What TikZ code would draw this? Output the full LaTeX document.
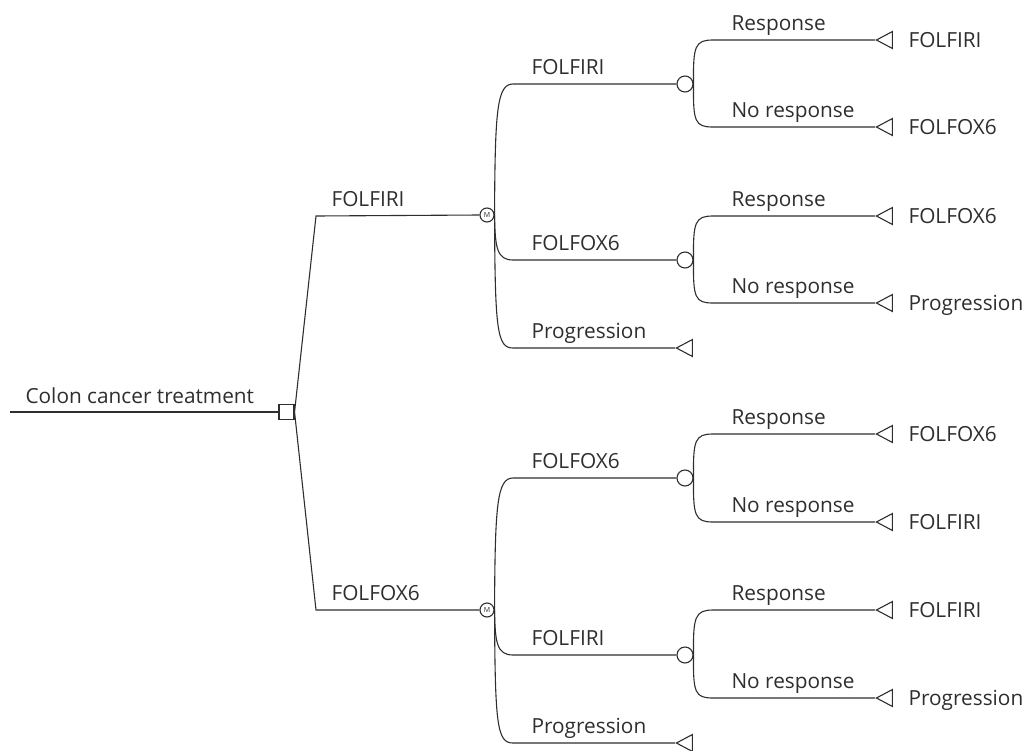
\documentclass[tikz,border=0pt]{standalone}
\usepackage{fontspec}
\setmainfont{Open Sans}
\usetikzlibrary{shapes.geometric}
\definecolor{ink}{HTML}{2E2E2E}
\begin{document}
\begin{tikzpicture}[x=1pt,y=-1pt, color=ink, line width=1.1pt,
  lbl/.style={font=\fontsize{20.8}{24}\selectfont, text=ink, inner sep=0, anchor=base west},
  decision/.style={draw=ink, rectangle, minimum size=15pt, inner sep=0},
  mnode/.style={draw=ink, circle, minimum size=14pt, inner sep=0, font=\fontsize{7}{7}\selectfont, text=ink},
  chance/.style={draw=ink, circle, minimum size=16pt, inner sep=0},
  terminal/.style={draw=ink, isosceles triangle, shape border rotate=180, isosceles triangle stretches, minimum height=16pt, minimum width=17pt, inner sep=0, anchor=apex},
]
\useasboundingbox (0,0) rectangle (1023,750);

% root
\coordinate (start) at (10,412);
\node[decision] (d) at (286.5,412) {};
\draw (start) -- (d.west);
\node[lbl] (lroot) at (25,403) {Colon cancer treatment};

% level 1
\node[mnode] (m1) at (487,215) {M};
\node[mnode] (m2) at (487,610) {M};
\coordinate (k1) at (316,216);
\coordinate (k2) at (316,610);
\draw (d.east) -- (k1) -- (m1.west);
\draw (d.east) -- (k2) -- (m2.west);
\node[lbl] (l1a) at (331,206) {FOLFIRI};
\node[lbl] (l1b) at (331,600) {FOLFOX6};

% level 2 - top
\node[chance] (c1) at (685,84) {};
\node[chance] (c2) at (685,260) {};
\node[terminal] (t1) at (675,348) {};
\draw (m1.east) .. controls (495,110) and (497,84) .. (513,84) -- (c1.west);
\draw (m1.east) .. controls (495,248) and (497,260) .. (513,260) -- (c2.west);
\draw (m1.east) .. controls (495,330) and (497,348) .. (513,348) -- (t1.apex);
\node[lbl] (l2a) at (531,74) {FOLFIRI};
\node[lbl] (l2b) at (531,250) {FOLFOX6};
\node[lbl] (l2c) at (531,338) {Progression};

% level 2 - bottom
\node[chance] (c3) at (685,478) {};
\node[chance] (c4) at (685,655) {};
\node[terminal] (t2) at (675,743) {};
\draw (m2.east) .. controls (495,505) and (497,478) .. (513,478) -- (c3.west);
\draw (m2.east) .. controls (495,643) and (497,655) .. (513,655) -- (c4.west);
\draw (m2.east) .. controls (495,725) and (497,743) .. (513,743) -- (t2.apex);
\node[lbl] (l2d) at (531,468) {FOLFOX6};
\node[lbl] (l2e) at (531,645) {FOLFIRI};
\node[lbl] (l2f) at (531,733) {Progression};

% level 3
\foreach \c/\y/\ya/\yb/\ta/\tb in {
  c1/84/40/127/FOLFIRI/FOLFOX6,
  c2/260/216/303/FOLFOX6/Progression,
  c3/478/434/522/FOLFOX6/FOLFIRI,
  c4/655/610/698/FOLFIRI/Progression}{
  \node[terminal] (\c ta) at (875,\ya) {};
  \node[terminal] (\c tb) at (875,\yb) {};
  \draw (\c.east) .. controls (693,\y-38) and (695,\ya) .. (713,\ya) -- (\c ta.apex);
  \draw (\c.east) .. controls (693,\y+38) and (695,\yb) .. (713,\yb) -- (\c tb.apex);
  \node[lbl] (\c la) at (731,\ya-10) {Response};
  \node[lbl] (\c lb) at (731,\yb-10) {No response};
  \node[lbl] (\c ra) at (908,\ya+7) {\ta};
  \node[lbl] (\c rb) at (908,\yb+7) {\tb};
}
\end{tikzpicture}
\end{document}
